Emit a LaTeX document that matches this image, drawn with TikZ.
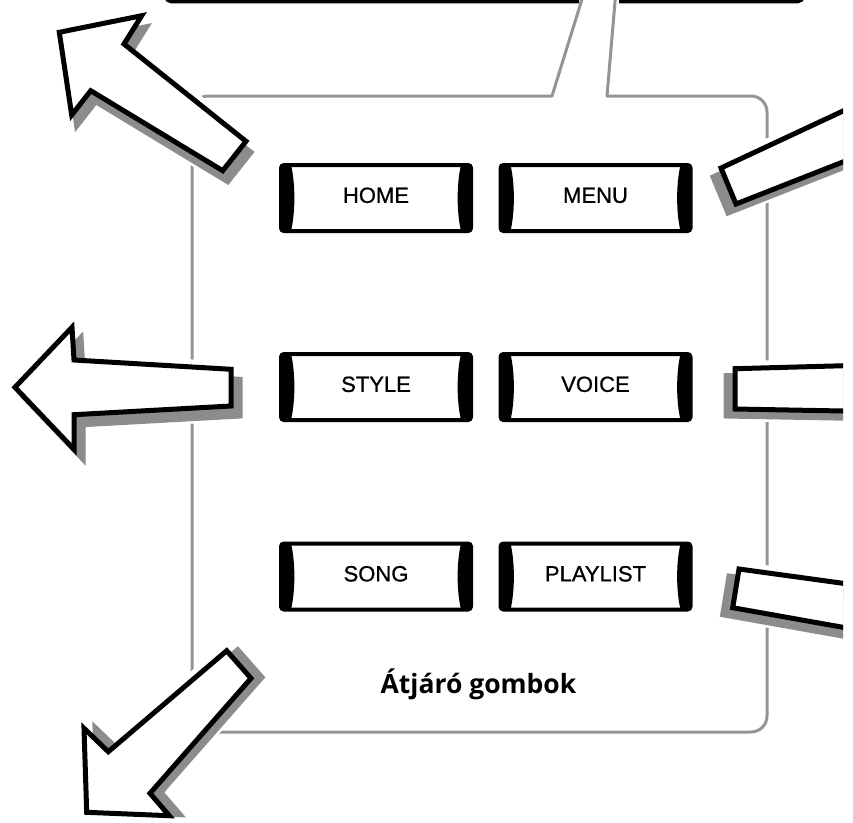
\documentclass[tikz,border=0pt]{standalone}
\usepackage{fontspec}
\setmainfont{Liberation Sans}
\newfontfamily\btnfont{Liberation Sans}[FakeBold=0.8]
\newfontfamily\labfont{Open Sans}
\definecolor{shad}{RGB}{140,140,140}
\definecolor{boxg}{RGB}{148,148,148}
\tikzset{
  btn/.style={draw=black, fill=white, line width=4pt, rounded corners=3pt,
    minimum width=190pt, minimum height=66pt, inner sep=0pt,
    text height=15.75pt, text depth=0pt, font=\btnfont\fontsize{22}{26}\selectfont},
  boxline/.style={draw=boxg, line width=3pt, line cap=round},
  topline/.style={draw=black, line width=3.5pt, rounded corners=5pt},
  arrowhalo/.style={draw=white, fill=white, line width=15pt, line join=miter},
  shadowhalo/.style={draw=white, fill=white, line width=10pt, line join=miter},
  arrowshadow/.style={draw=shad, fill=shad, line width=5pt, line join=miter},
  arrowbody/.style={draw=black, fill=white, line width=5pt, line join=miter},
}
\newcommand\gomb[4]{%
  \begin{scope}[shift={(#2,#3)}]
    \node[btn] (#1) at (0,0) {\raisebox{3pt}{#4}};
    \fill[black] (-95,-33) -- (-85,-33) .. controls (-80.5,-14) and (-80.5,14) .. (-85,33) -- (-95,33) -- cycle;
    \fill[black] (95,-33) -- (85,-33) .. controls (80.5,-14) and (80.5,14) .. (85,33) -- (95,33) -- cycle;
  \end{scope}}
\newcommand\nyil[3]{%
  \path[arrowhalo] #1;
  \begin{scope}[shift={(#2,#3)}]\path[shadowhalo] #1;\end{scope}
  \begin{scope}[shift={(#2,#3)}]\path[arrowshadow] #1;\end{scope}
  \path[arrowbody] #1;}
\begin{document}
\begin{tikzpicture}[x=1pt,y=-1pt]
\useasboundingbox (0,0) rectangle (853,822);
\begin{scope}
\clip (0,0) rectangle (843,822);
% top box edge (cut by picture border)
\draw[topline] (579,1.5) -- (166,1.5) -- (166,-20);
\draw[topline] (619,1.5) -- (803,1.5) -- (803,-20);
% gray callout box
\draw[boxline, rounded corners=16pt] (552,96) -- (192,96) -- (192,732) -- (767,732) -- (767,96) -- (607,96);
\draw[boxline] (583,-4) -- (552,96);
\draw[boxline] (615.5,-4) -- (607,96);
% arrows
\nyil{(59.3,32.3) -- (141.7,15.7) -- (124,44) -- (246,141.3) -- (222.7,170.7) -- (90.7,90.7) -- (71.7,115) -- cycle}{5}{11}
\nyil{(15,387.3) -- (72,327.3) -- (74,360) -- (231,369.3) -- (231,406) -- (74,414.7) -- (74,449.3) -- cycle}{9}{10}
\nyil{(226.7,650.7) -- (251,678.3) -- (150,793.3) -- (169.3,815.7) -- (86.7,812.3) -- (84,728.3) -- (108.3,751.7) -- cycle}{11}{-1}
\nyil{(721,168) -- (870,98.4) -- (870,151.3) -- (736,204) -- cycle}{-8}{9}
\nyil{(735,368.7) -- (870,365) -- (870,411.5) -- (735,409) -- cycle}{-9}{7}
\nyil{(739,569) -- (870,587) -- (870,632.1) -- (732.7,607.7) -- cycle}{-10}{7}
\end{scope}
% buttons
\gomb{home}{376}{198}{HOME}
\gomb{menu}{595.5}{198}{MENU}
\gomb{style}{376}{387}{STYLE}
\gomb{voice}{595.5}{387}{VOICE}
\gomb{song}{376}{576.5}{SONG}
\gomb{playlist}{595.5}{576.5}{PLAYLIST}
\node[font={\labfont\bfseries\fontsize{26.5}{30}\selectfont}, anchor=base, inner sep=0pt] (cim) at (478.5,693) {Átjáró gombok};
\end{tikzpicture}
\end{document}
